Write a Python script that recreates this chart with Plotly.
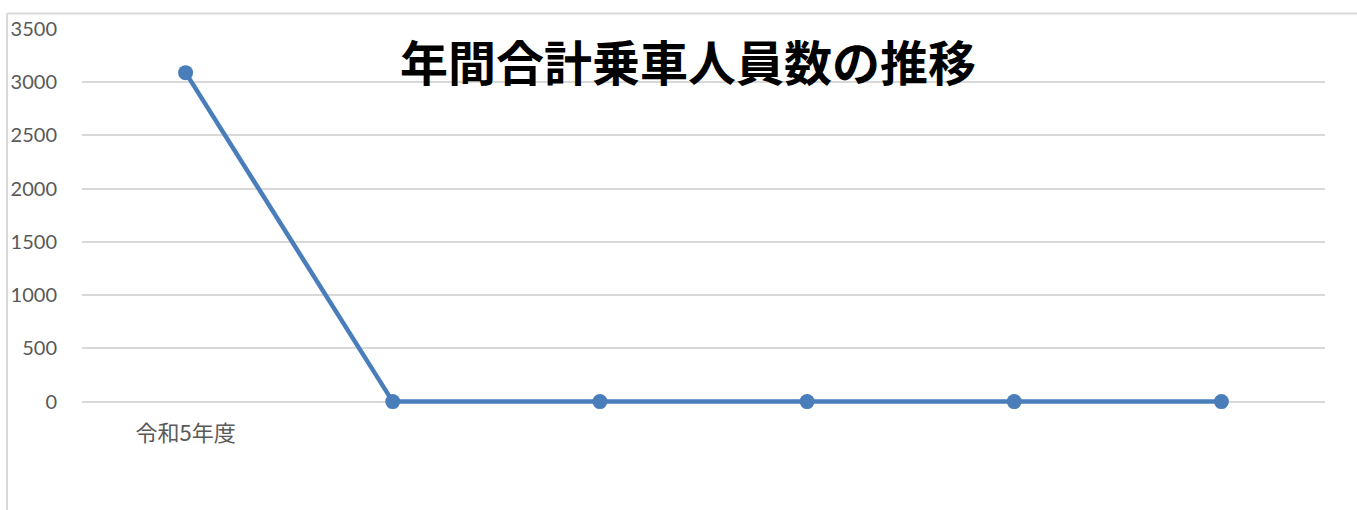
import plotly.graph_objects as go

categories = ["令和5年度", "", "", "", "", ""]
values = [3090, 0, 0, 0, 0, 0]
y_ticks = [0, 500, 1000, 1500, 2000, 2500, 3000, 3500]
title_text = "年間合計乗車人員数の推移"

x_pos = list(range(len(categories)))

fig = go.Figure()
fig.add_trace(go.Scatter(
    x=x_pos, y=values, mode="lines+markers",
    line=dict(color="#4a7ebb", width=4.5),
    marker=dict(color="#4a7ebb", size=15),
    hoverinfo="skip", showlegend=False, cliponaxis=False,
))

W, H = 1357, 510
y_lo, y_hi = -60, 3500
top_px, zero_px = 28.5, 402
scale = (zero_px - top_px) / y_hi
L, R, T = 82, 1325, top_px
B = zero_px + (-y_lo) * scale

fig.update_layout(
    width=W, height=H,
    margin=dict(l=L, r=W - R, t=T, b=H - B, pad=0),
    paper_bgcolor="white", plot_bgcolor="white",
    title=dict(text=title_text, x=688 / W, xref="container", xanchor="center",
               y=1 - 64 / H, yref="container", yanchor="middle",
               font=dict(family="Noto Sans CJK JP", size=48, color="black", weight="bold")),
    xaxis=dict(range=[-0.5, len(categories) - 0.5], tickvals=x_pos, ticktext=categories,
               showgrid=False, zeroline=False, showline=False, ticks="",
               ticklabelstandoff=10,
               tickfont=dict(family="Noto Sans CJK JP", size=22, color="#595959")),
    yaxis=dict(range=[y_lo, y_hi], tickvals=y_ticks, showgrid=True, gridcolor="#d9d9d9",
               gridwidth=1.5, zeroline=False,
               showline=False, ticks="", ticklabelstandoff=24,
               tickfont=dict(family="Lato", size=20, color="#595959")),
)

pw, ph = R - L, B - T
# chart-area border (top and left edges visible in the reference)
fig.add_shape(type="line", xref="paper", yref="paper",
              x0=(7 - L) / pw, x1=(W - L) / pw + 0.01,
              y0=1 + (T - 13) / ph, y1=1 + (T - 13) / ph,
              line=dict(color="#d9d9d9", width=2))
fig.add_shape(type="line", xref="paper", yref="paper",
              x0=(7 - L) / pw, x1=(7 - L) / pw,
              y0=1 + (T - 13) / ph, y1=-(H - B) / ph - 0.02,
              line=dict(color="#d9d9d9", width=2))

fig.write_html("out.html")
